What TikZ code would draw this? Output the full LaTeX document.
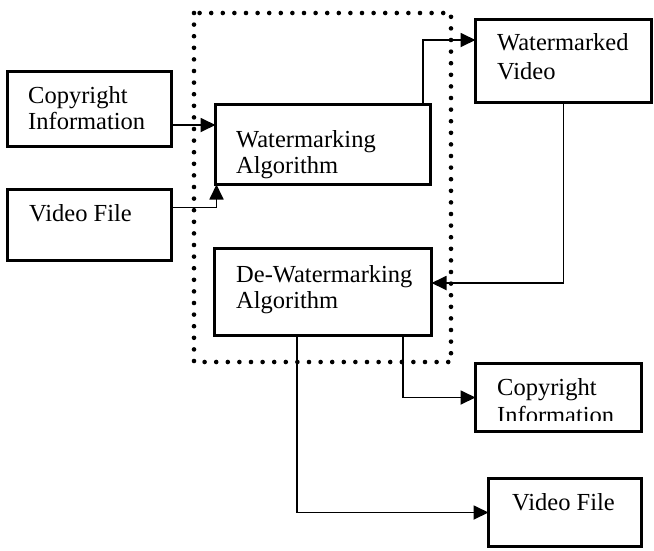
\documentclass[tikz,border=0pt]{standalone}
\usepackage{fontspec}
\setmainfont{Liberation Serif}
\usetikzlibrary{arrows.meta}
\begin{document}
\begin{tikzpicture}[x=1pt,y=-1pt,
  box/.style={draw, line width=3.6pt, inner sep=0pt, outer sep=0pt, anchor=north west},
  conn/.style={line width=1.8pt, -{Triangle[length=15pt,width=14pt]}},
  lbl/.style={anchor=base west, inner sep=0pt, font=\fontsize{24.5}{26}\selectfont},
  dotline/.style={line width=4.6pt, line cap=round, dash pattern=on 0pt off 11.6pt}]
\useasboundingbox (0,0) rectangle (654,550);
% dotted frame
\draw[dotline] (194,13) rectangle (451,362);
% boxes
\node[box, minimum width=164pt, minimum height=75pt] (ci) at (7.5,71.5) {};
\node[box, minimum width=164pt, minimum height=71pt] (vf) at (7.5,189.5) {};
\node[box, minimum width=215pt, minimum height=80pt] (wa) at (215.5,104.5) {};
\node[box, minimum width=176pt, minimum height=83pt] (wv) at (475.5,19.5) {};
\node[box, minimum width=217pt, minimum height=87pt] (dw) at (214.5,248.5) {};
\node[box, minimum width=166pt, minimum height=68pt] (ci2) at (475.5,363.5) {};
\node[box, minimum width=153pt, minimum height=68pt] (vf2) at (488.5,478.5) {};
% labels
\node[lbl] (t1) at (28,103) {Copyright};
\node[lbl] (t2) at (28,129) {Information};
\node[lbl] (t3) at (29,221) {Video File};
\node[lbl] (t4) at (236,147) {Watermarking};
\node[lbl] (t5) at (236,173) {Algorithm};
\node[lbl] (t6) at (497,50) {Watermarked};
\node[lbl] (t7) at (497,79) {Video};
\node[lbl] (t8) at (236,282) {De-Watermarking};
\node[lbl] (t9) at (236,308) {Algorithm};
\node[lbl] (t10) at (497,395) {Copyright};
\begin{scope}
\clip (470,350) rectangle (650,420);
\node[lbl] (t11) at (497,423) {Information};
\end{scope}
\node[lbl] (t12) at (512,510) {Video File};
% connectors
\draw[conn] ([yshift=-16pt]ci.east) -- ([yshift=-16pt]ci.east -| wa.west);
\draw[conn] ([yshift=17.5pt]vf.east) -| ([xshift=1pt]wa.south west);
\draw[conn] ([xshift=-7.5pt]wa.north east) |- ([yshift=21pt]wv.west);
\draw[conn] (wv.south) |- ([yshift=9pt]dw.east);
\draw[conn] ([xshift=-28.5pt]dw.south east) |- (ci2.west);
\draw[conn] ([xshift=82.5pt]dw.south west) |- (vf2.west);
\end{tikzpicture}
\end{document}
